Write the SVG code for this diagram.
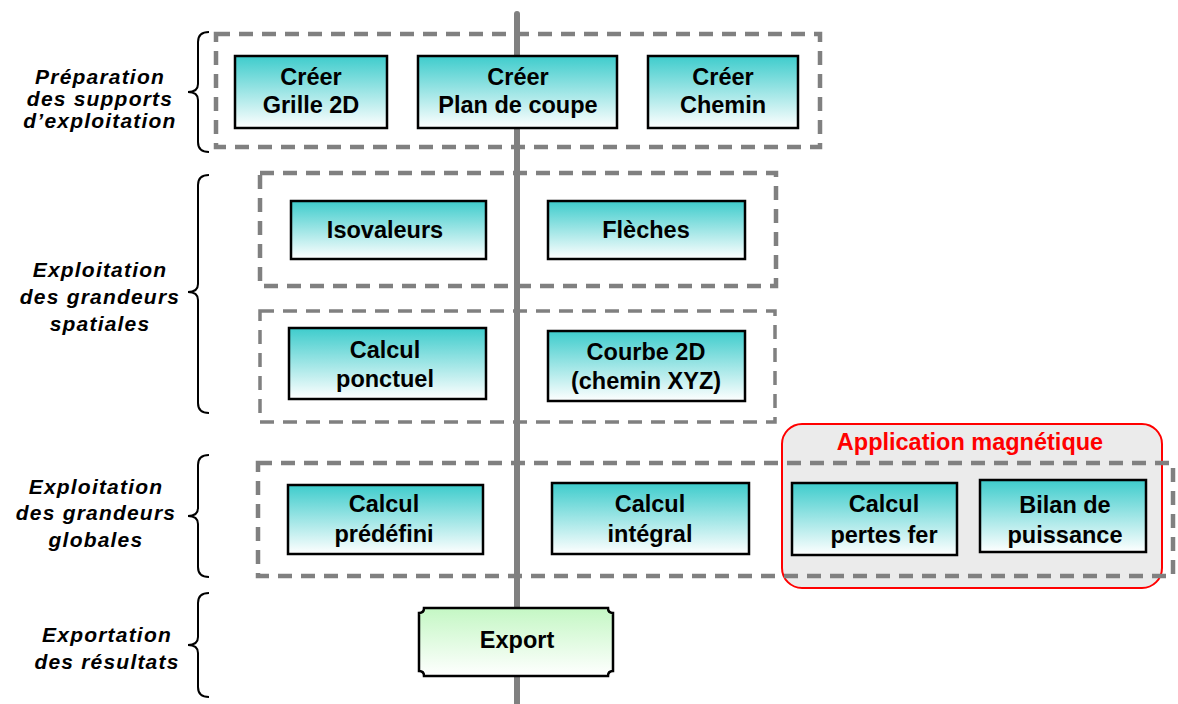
<svg xmlns="http://www.w3.org/2000/svg" width="1178" height="704" viewBox="0 0 1178 704">
  <defs>
    <linearGradient id="teal" x1="0" y1="0" x2="0" y2="1">
      <stop offset="0" stop-color="#3ecccc"/>
      <stop offset="1" stop-color="#ffffff"/>
    </linearGradient>
    <linearGradient id="green" x1="0" y1="0" x2="0" y2="1">
      <stop offset="0" stop-color="#c4f7c4"/>
      <stop offset="1" stop-color="#ffffff"/>
    </linearGradient>
    <style>
      .node rect { fill: url(#teal); stroke: #000; stroke-width: 2.5; }
      .node text, .export text { font-family: "Liberation Sans", Arial, sans-serif; font-weight: bold; font-size: 23.5px; fill: #000; text-anchor: middle; }
      .grp { fill: none; stroke: #808080; stroke-width: 4.5; stroke-dasharray: 14 9; }
      .brace { fill: none; stroke: #000; stroke-width: 2; }
      .lbl { font-family: "Liberation Sans", Arial, sans-serif; font-weight: bold; font-style: italic; font-size: 21px; letter-spacing: 1.2px; fill: #000; text-anchor: middle; }
    </style>
  </defs>

  <!-- central axis -->
  <g id="connectors">
    <line x1="517" y1="14" x2="517" y2="704" stroke="#808080" stroke-width="6" stroke-linecap="round"/>
  </g>

  <!-- magnetic application highlight -->
  <g id="application-magnetique">
    <rect x="782" y="424" width="380" height="164" rx="20" fill="#ebebeb" stroke="#ff0000" stroke-width="2"/>
    <text x="970" y="450" font-family="Liberation Sans, Arial, sans-serif" font-weight="bold" font-size="23.5" fill="#ff0000" text-anchor="middle">Application magnétique</text>
  </g>

  <!-- dashed groupings -->
  <g id="groupings">
    <rect class="grp" x="216" y="34" width="604" height="113"/>
    <rect class="grp" x="260" y="173" width="516" height="113"/>
    <rect class="grp" x="260" y="311" width="515" height="111" style="stroke-width:3.5"/>
    <rect class="grp" x="258" y="463" width="915" height="113"/>
  </g>

  <!-- side braces -->
  <g id="braces">
    <path class="brace" d="M209,32 Q198,32 198,42 L198,84 Q198,92 188,92 Q198,92 198,100 L198,142 Q198,152 209,152"/>
    <path class="brace" d="M209,175 Q198,175 198,185 L198,284 Q198,292 188,292 Q198,292 198,300 L198,403 Q198,413 209,413"/>
    <path class="brace" d="M209,455 Q198,455 198,465 L198,508 Q198,516 188,516 Q198,516 198,524 L198,567 Q198,577 209,577"/>
    <path class="brace" d="M209,593 Q198,593 198,603 L198,637 Q198,645 188,645 Q198,645 198,653 L198,687 Q198,697 209,697"/>
  </g>

  <!-- phase labels -->
  <g id="labels">
    <text class="lbl" x="100" y="84">Préparation</text>
    <text class="lbl" x="100" y="106">des supports</text>
    <text class="lbl" x="100" y="128">d’exploitation</text>
    <text class="lbl" x="100" y="277">Exploitation</text>
    <text class="lbl" x="100" y="304">des grandeurs</text>
    <text class="lbl" x="100" y="331">spatiales</text>
    <text class="lbl" x="96" y="494">Exploitation</text>
    <text class="lbl" x="96" y="520">des grandeurs</text>
    <text class="lbl" x="96" y="547">globales</text>
    <text class="lbl" x="107" y="642">Exportation</text>
    <text class="lbl" x="107" y="669">des résultats</text>
  </g>

  <!-- preparation nodes -->
  <g id="creer-grille" class="node">
    <rect x="235" y="56" width="152" height="72"/>
    <text x="311" y="85">Créer</text>
    <text x="311" y="113">Grille 2D</text>
  </g>
  <g id="creer-plan" class="node">
    <rect x="418" y="56" width="199" height="72"/>
    <text x="518" y="85">Créer</text>
    <text x="518" y="113">Plan de coupe</text>
  </g>
  <g id="creer-chemin" class="node">
    <rect x="648" y="56" width="150" height="72"/>
    <text x="723" y="85">Créer</text>
    <text x="723" y="113">Chemin</text>
  </g>

  <!-- spatial quantities -->
  <g id="isovaleurs" class="node">
    <rect x="291" y="201" width="195" height="58"/>
    <text x="385" y="238">Isovaleurs</text>
  </g>
  <g id="fleches" class="node">
    <rect x="548" y="201" width="197" height="58"/>
    <text x="646" y="238">Flèches</text>
  </g>
  <g id="calcul-ponctuel" class="node">
    <rect x="289" y="328" width="197" height="71"/>
    <text x="385" y="358">Calcul</text>
    <text x="385" y="387">ponctuel</text>
  </g>
  <g id="courbe-2d" class="node">
    <rect x="548" y="331" width="197" height="70"/>
    <text x="646" y="360">Courbe 2D</text>
    <text x="646" y="389">(chemin XYZ)</text>
  </g>

  <!-- global quantities -->
  <g id="calcul-predefini" class="node">
    <rect x="288" y="485" width="195" height="69"/>
    <text x="384" y="512">Calcul</text>
    <text x="384" y="542">prédéfini</text>
  </g>
  <g id="calcul-integral" class="node">
    <rect x="552" y="483" width="197" height="71"/>
    <text x="650" y="512">Calcul</text>
    <text x="650" y="542">intégral</text>
  </g>
  <g id="calcul-pertes-fer" class="node">
    <rect x="792" y="483" width="165" height="72"/>
    <text x="884" y="512">Calcul</text>
    <text x="884" y="543">pertes fer</text>
  </g>
  <g id="bilan-puissance" class="node">
    <rect x="980" y="480" width="166" height="72"/>
    <text x="1065" y="513">Bilan de</text>
    <text x="1065" y="543">puissance</text>
  </g>

  <!-- export -->
  <g id="export" class="export">
    <path d="M424,608 L608,608 Q608,613 613,613 L613,671 Q608,671 608,676 L424,676 Q424,671 419,671 L419,613 Q424,613 424,608 Z" fill="url(#green)" stroke="#000" stroke-width="2.5"/>
    <text x="517" y="648">Export</text>
  </g>
</svg>
